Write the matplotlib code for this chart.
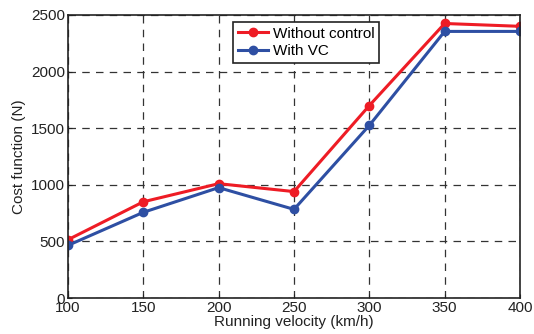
import matplotlib
matplotlib.use("Agg")
import matplotlib.pyplot as plt

velocity = [100, 150, 200, 250, 300, 350, 400]
without_control = [515, 850, 1010, 940, 1700, 2425, 2400]
with_vc = [465, 757, 975, 783, 1525, 2355, 2355]
xticks = [100, 150, 200, 250, 300, 350, 400]
yticks = [0, 500, 1000, 1500, 2000, 2500]

plt.rcParams['font.family'] = ['Liberation Sans', 'DejaVu Sans']
fig = plt.figure(figsize=(5.34, 3.34), dpi=100)
ax = fig.add_axes([68/534, 1 - 298/334, (520-68)/534, (298-15)/334])

ax.plot(velocity, without_control, '-o', color='#ee1c25', lw=2.2, ms=6, label='Without control')
ax.plot(velocity, with_vc, '-o', color='#2e4fa3', lw=2.2, ms=6, label='With VC')

ax.set_xlim(100, 400)
ax.set_ylim(0, 2500)
ax.set_xticks(xticks)
ax.set_yticks(yticks)
ax.tick_params(direction='in', length=3, labelsize=11, colors='#222222', pad=2)
ax.grid(True, color='#333333', linestyle=(0, (6, 5)), linewidth=0.9)
for s in ax.spines.values():
    s.set_linewidth(1.2)
    s.set_color('#222222')
ax.set_xlabel('Running velocity (km/h)', fontsize=11, color='#222222', labelpad=0)
ax.set_ylabel('Cost function (N)', fontsize=11, color='#222222', labelpad=4)

leg = ax.legend(loc='upper left', bbox_to_anchor=((233-68)/452, (298-22)/283), fontsize=11,
                frameon=True, fancybox=False, framealpha=1, edgecolor='#222222',
                borderpad=0.3, labelspacing=0.25, handlelength=2.0, handletextpad=0.3,
                borderaxespad=0)
leg.get_frame().set_linewidth(1.2)

fig.savefig('out.png', dpi=100)
